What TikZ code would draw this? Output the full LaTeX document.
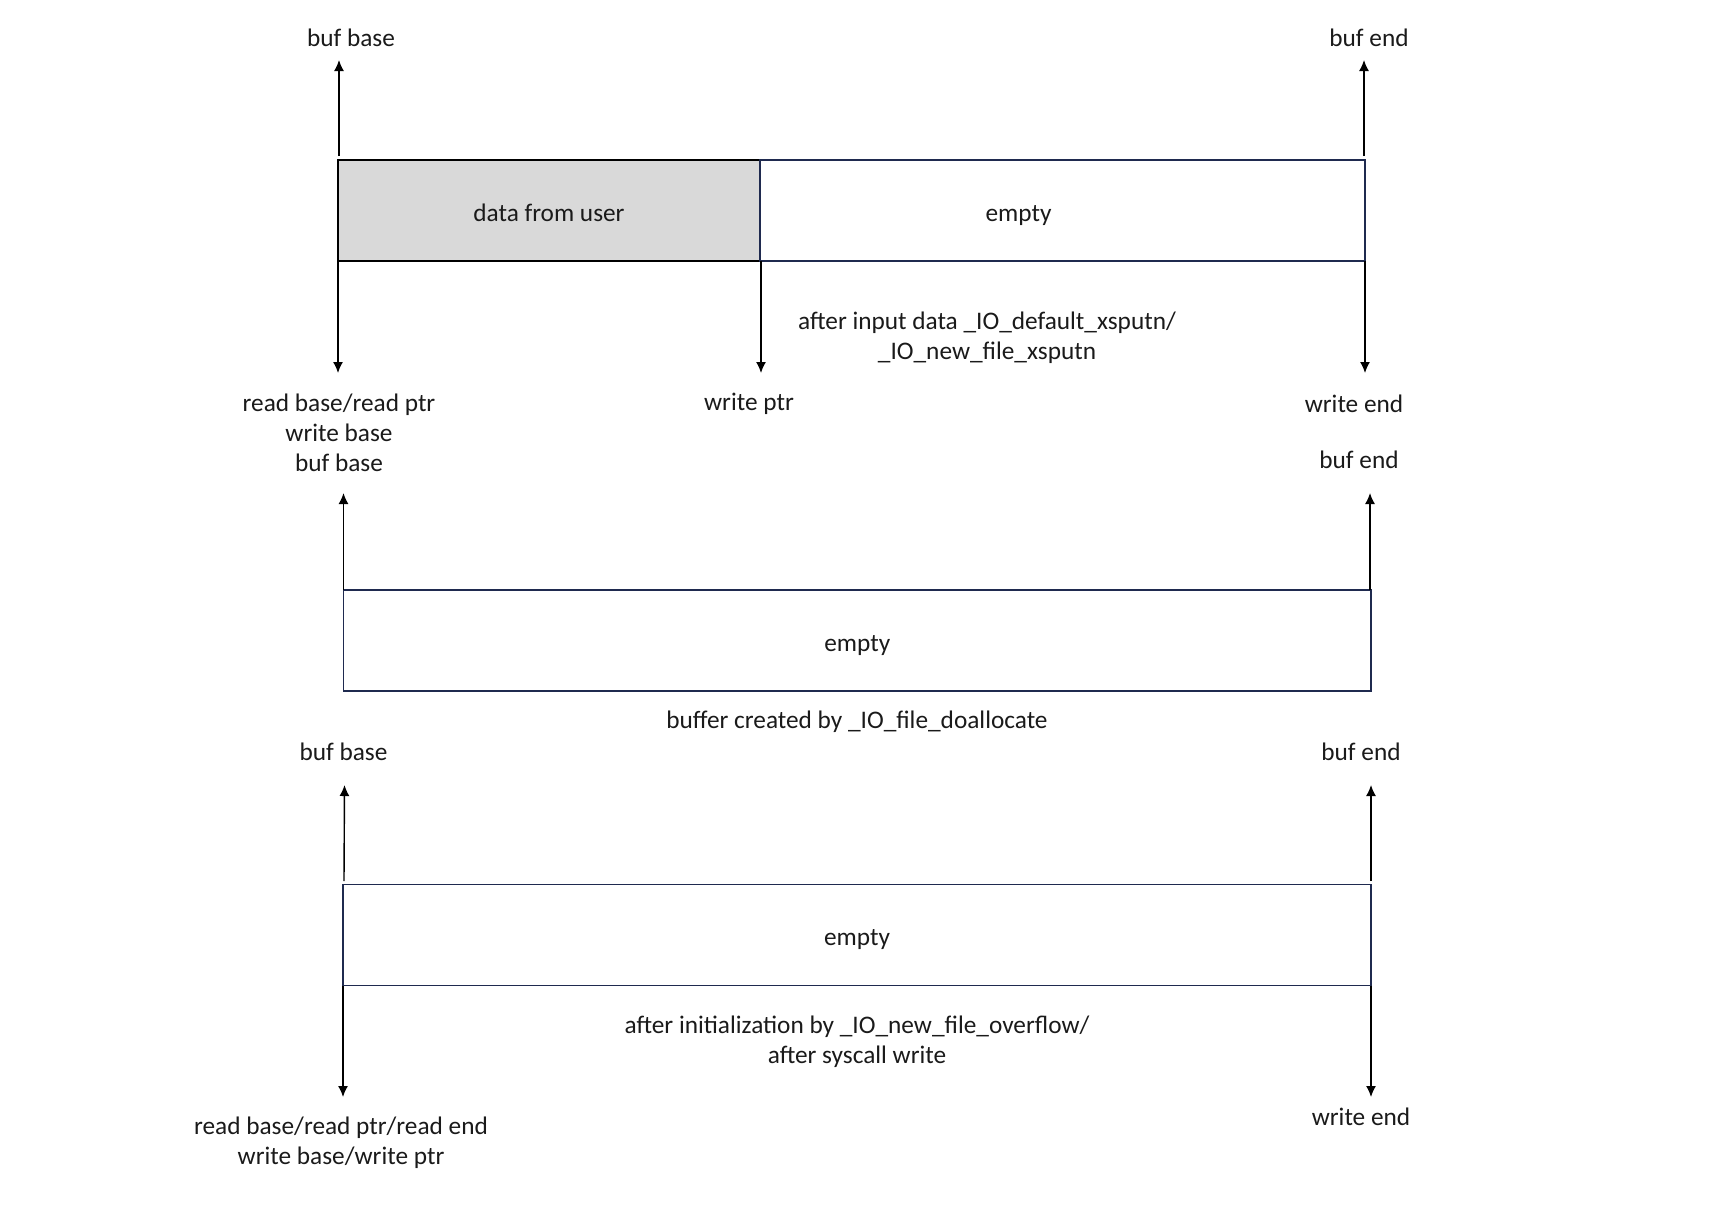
\documentclass[tikz,border=0pt]{standalone}
\usepackage{fontspec}
\setmainfont{Carlito}
\usetikzlibrary{arrows.meta}
\definecolor{boxline}{HTML}{1F2A4F}
\definecolor{usergray}{HTML}{D9D9D9}
\definecolor{inktext}{HTML}{1A1A1A}

\begin{document}
\begin{tikzpicture}[x=0.5pt,y=-0.5pt,>={Latex[length=5.5pt,width=5pt]},line width=0.7pt,
  every node/.style={font=\fontsize{12.65}{15}\selectfont,text=inktext,align=center,inner sep=0pt,outer sep=0pt},
  cell/.style={rectangle,draw=boxline,minimum height=50.5pt,text height=10.5pt,text depth=0pt}]
  \useasboundingbox (0,0) rectangle (1710,1228);

  % buffer after input data
  \node[cell,fill=usergray,draw=black,minimum width=211pt,anchor=north west] (user1) at (338,160) {data from user};
  \node[cell,minimum width=302.5pt,anchor=west,label={[xshift=-22pt,text height=10.5pt,text depth=0pt]center:empty}] (free1) at (user1.east) {};
  \node (bbase1) at (351,38) {buf base};
  \node (bend1) at (1369,38) {buf end};
  \node (rbase1) at (339,433) {read base/read ptr\\write base\\buf base};
  \node (wptr1) at (749,404) {write ptr};
  \node (wend1) at (1354,404) {write end};
  \node (note1) at (987,338) {after input data \_IO\_default\_xsputn/\\\_IO\_new\_file\_xsputn};
  \coordinate (bbtip1) at (339,60);
  \coordinate (betip1) at (1364,60);
  \coordinate (rbtip1) at (338,373);
  \coordinate (wptip1) at (761,373);
  \coordinate (wetip1) at (1365,373);

  % buffer created by doallocate
  \node[cell,minimum width=513.75pt,anchor=north west] (free2) at (343.5,590) {empty};
  \node (bend2) at (1359,460) {buf end};
  \node (note2) at (857,722) {buffer created by \_IO\_file\_doallocate};
  \coordinate (bbtip2) at (343.5,493);
  \coordinate (betip2) at (1370,493);

  % buffer after overflow
  \node[cell,minimum width=514pt,anchor=north west] (free3) at (343,884.5) {empty};
  \node (bbase3) at (343.5,752) {buf base};
  \node (bend3) at (1361,752) {buf end};
  \node (note3) at (857,1042) {after initialization by \_IO\_new\_file\_overflow/\\after syscall write};
  \node (rbase3) at (341,1143) {read base/read ptr/read end\\write base/write ptr};
  \node (wend3) at (1361,1117) {write end};
  \coordinate (bbtip3) at (344.5,785);
  \coordinate (betip3) at (1371,785);
  \coordinate (rbtip3) at (343,1097);
  \coordinate (wetip3) at (1371,1097);

  \path[->]
    ([xshift=0.5pt,yshift=2pt]user1.north west) edge (bbtip1)
    ([xshift=-0.5pt,yshift=2pt]free1.north east) edge (betip1)
    (user1.south west) edge (rbtip1)
    ([xshift=0.5pt]free1.south west) edge (wptip1)
    (free1.south east) edge (wetip1)
    (free2.north west) edge (bbtip2)
    ([xshift=-0.5pt]free2.north east) edge (betip2)
    ([xshift=0.5pt,yshift=1.75pt]free3.north west) edge (bbtip3)
    ([yshift=1.75pt]free3.north east) edge (betip3)
    (free3.south west) edge (rbtip3)
    (free3.south east) edge (wetip3);
\end{tikzpicture}
\end{document}
